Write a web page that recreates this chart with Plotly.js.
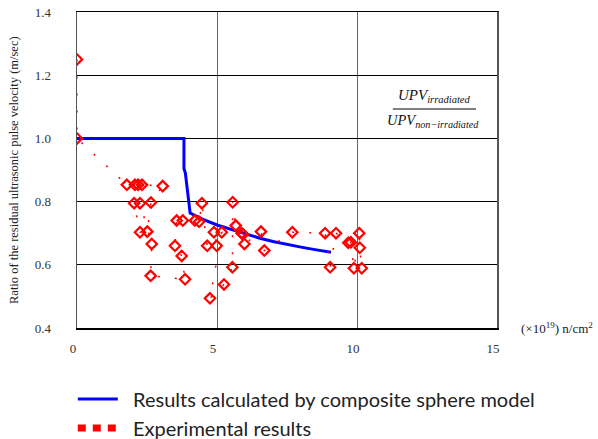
<!DOCTYPE html>
<html>
<head>
<meta charset="utf-8">
<script src="https://cdn.plot.ly/plotly-3.0.1.min.js"></script>
<style>html,body{margin:0;padding:0;background:#fff;}#chart{width:598px;height:439px;}</style>
</head>
<body>
<div id="chart"></div>
<script>
// Calculated curve (composite sphere model)
const modelX = [0, 3.82, 3.82, 3.87, 4.04, 4.5, 5.0, 5.5, 6.0, 6.5, 7.0, 7.5, 8.0, 8.5, 9.07];
const modelY = [1.0, 1.0, 0.905, 0.89, 0.764, 0.744, 0.726, 0.712, 0.698, 0.685, 0.674, 0.664, 0.656, 0.648, 0.640];

// Experimental results (fluence ×10^19 n/cm², UPV ratio)
const expX = [0, 0, 1.78, 2.07, 2.18, 2.32, 3.06, 2.64, 2.51, 2.25, 2.04, 2.25, 2.67, 2.63, 3.86, 3.74, 3.5, 3.56, 3.78, 4.21, 4.36, 4.46, 4.65, 4.99, 4.89, 5.17, 4.75, 5.25, 5.55, 5.56, 5.67, 5.88, 5.93, 5.98, 6.57, 6.69, 7.69, 8.86, 9.04, 9.25, 9.69, 9.78, 9.89, 10.08, 10.1, 10.17];
const expY = [1.25, 1.0, 0.853, 0.853, 0.853, 0.853, 0.849, 0.797, 0.705, 0.703, 0.795, 0.795, 0.666, 0.565, 0.554, 0.628, 0.66, 0.74, 0.74, 0.74, 0.736, 0.795, 0.66, 0.66, 0.703, 0.703, 0.494, 0.538, 0.592, 0.798, 0.724, 0.70, 0.697, 0.666, 0.705, 0.645, 0.703, 0.70, 0.592, 0.70, 0.67, 0.671, 0.589, 0.70, 0.654, 0.589];

const xTickVals = [0, 5, 10, 15];
const yTickVals = [0.4, 0.6, 0.8, 1.0, 1.2, 1.4];

const modelName = 'Results calculated by composite sphere model';
const expName = 'Experimental results';
const yTitle = 'Ratio of the residual ultrasonic pulse velocity (m/sec)';
const pad = '\u00a0\u00a0';

const traces = [
  {
    x: modelX, y: modelY, type: 'scatter', mode: 'lines',
    name: pad + modelName, line: {color: '#0000FF', width: 3},
    showlegend: true
  },
  {
    x: expX, y: expY, type: 'scatter', mode: 'lines+markers',
    name: expName, legendgroup: 'exp',
    line: {color: '#FF0000', width: 1.5, dash: '2px,15px'},
    marker: {symbol: 'diamond-open', size: 8, color: '#FF0000', line: {width: 2.2, color: '#FF0000'}},
    showlegend: false
  },
  {
    x: [null], y: [null], type: 'scatter', mode: 'lines',
    name: pad + expName, legendgroup: 'exp',
    line: {color: '#FF0000', width: 7, dash: '8px,7px'},
    showlegend: true
  }
];

const serif = 'Liberation Serif, Times New Roman, serif';

const layout = {
  width: 598, height: 439,
  margin: {l: 77, r: 101, t: 12, b: 111, autoexpand: false},
  paper_bgcolor: '#fff', plot_bgcolor: '#fff',
  showlegend: true,
  legend: {
    x: -0.01, y: -0.163, xanchor: 'left', yanchor: 'top',
    font: {family: 'Lato, Liberation Sans, sans-serif', size: 20, color: '#222'},
    bgcolor: 'rgba(0,0,0,0)', tracegroupgap: 0, itemwidth: 40
  },
  xaxis: {
    range: [0, 15], tickvals: xTickVals, ticktext: xTickVals.map(String),
    showgrid: true, gridcolor: '#666', gridwidth: 1,
    showline: true, mirror: true, linecolor: '#000', linewidth: 1.5,
    zeroline: false, ticks: '',
    tickfont: {family: serif, size: 13, color: '#333'},
    ticklabelstandoff: 8, ticklabelshift: -4
  },
  yaxis: {
    range: [0.4, 1.4], tickvals: yTickVals, tickformat: '.1f',
    showgrid: true, gridcolor: '#000', gridwidth: 1,
    showline: true, mirror: true, linecolor: '#555', linewidth: 1.5,
    zeroline: false, ticks: '',
    tickfont: {family: serif, size: 13, color: '#333'},
    ticklabelstandoff: 22
  },
  annotations: [
    {
      text: yTitle, xref: 'paper', yref: 'paper', x: -0.15, y: 0.5,
      xanchor: 'center', yanchor: 'middle', textangle: -90, showarrow: false,
      font: {family: serif, size: 12.5, color: '#222'}
    },
    {
      text: '(×10<sup>19</sup>) n/cm<sup>2</sup>', xref: 'paper', yref: 'paper',
      x: 1.052, y: 0.0, xanchor: 'left', yanchor: 'middle', showarrow: false,
      font: {family: serif, size: 13, color: '#222'}
    },
    {
      text: '<i>UPV<sub>irradiated</sub></i>', xref: 'paper', yref: 'paper',
      x: 0.85, y: 0.735, xanchor: 'center', yanchor: 'middle', showarrow: false,
      font: {family: serif, size: 15, color: '#111'}
    },
    {
      text: '<i>UPV<sub>non−irradiated</sub></i>', xref: 'paper', yref: 'paper',
      x: 0.848, y: 0.655, xanchor: 'center', yanchor: 'middle', showarrow: false,
      font: {family: serif, size: 14.5, color: '#111'}
    }
  ],
  shapes: [
    {type: 'line', xref: 'paper', yref: 'paper', x0: 0.752, x1: 0.95, y0: 0.693, y1: 0.693,
     line: {color: '#000', width: 1}}
  ]
};

Plotly.newPlot('chart', traces, layout, {displayModeBar: false, staticPlot: true});
</script>
</body>
</html>
